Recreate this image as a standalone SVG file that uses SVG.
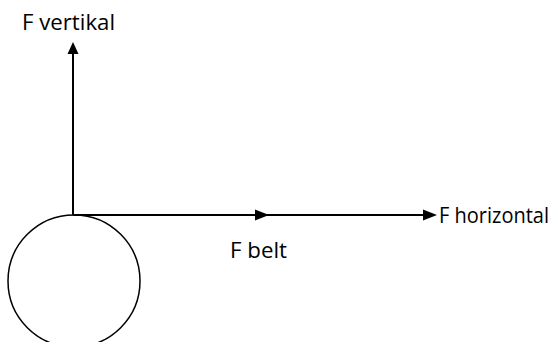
<svg xmlns="http://www.w3.org/2000/svg" width="555" height="342" viewBox="0 0 555 342">
<style>
.ln{stroke:#000;stroke-width:2;fill:none}
.t{font-family:"Open Sans","Liberation Sans",sans-serif;font-size:21.5px;fill:#000}
</style>
<rect width="555" height="342" fill="#fff"/>
<g id="pulley"><circle cx="74" cy="281" r="66" fill="#fff" stroke="#000" stroke-width="1.5"/></g>
<g id="connectors">
<line class="ln" x1="73" y1="215" x2="73" y2="54"/>
<polygon points="73,42 67.5,54 78.5,54" fill="#000"/>
<line class="ln" x1="73" y1="215" x2="425" y2="215"/>
<polygon points="269,215 255,209.5 255,220.5" fill="#000"/>
<polygon points="437,215 423,209.5 423,220.5" fill="#000"/>
</g>
<g id="label-vertikal"><text class="t" x="22" y="30" textLength="93" lengthAdjust="spacingAndGlyphs">F vertikal</text></g>
<g id="label-belt"><text class="t" x="230" y="258" textLength="57" lengthAdjust="spacingAndGlyphs">F belt</text></g>
<g id="label-horizontal"><text class="t" x="439" y="223" textLength="110" lengthAdjust="spacingAndGlyphs">F horizontal</text></g>
</svg>
